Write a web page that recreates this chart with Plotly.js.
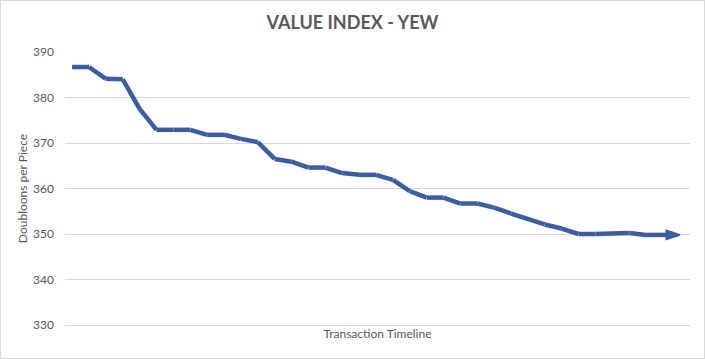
<!DOCTYPE html>
<html><head><meta charset="utf-8">
<script src="https://cdn.plot.ly/plotly-3.0.1.min.js"></script>
<style>html,body{margin:0;padding:0;background:#fff}#wrap{width:705px;height:359px;box-sizing:border-box;border:1px solid #d9d9d9}#chart{width:703px;height:357px}</style>
</head><body><div id="wrap"><div id="chart"></div></div>
<script>
const steps = Array.from({length: 37}, (_, i) => i);
const values = [386.7,386.7,384.1,384.0,377.5,372.9,372.9,372.9,371.8,371.8,370.9,370.2,366.5,365.9,364.6,364.6,363.4,363.0,363.0,361.9,359.4,358.0,358.0,356.7,356.7,355.8,354.5,353.2,352.1,351.2,350.0,350.0,350.0,350.2,349.8,349.8,349.8];
const yTicks = [330,340,350,360,370,380,390];
const chartTitle = 'VALUE INDEX - YEW';
const xTitle = 'Transaction Timeline';
const yTitle = 'Doubloons per Piece';

const n = values.length;
const markerSizes = values.map((v,i)=> i===n-1 ? 14 : 0);
const grey = '#595959';
const trace = {
  x: steps, y: values, type: 'scatter', mode: 'lines+markers',
  line: {color: '#3A5DA3', width: 4.5},
  marker: {symbol: 'arrow', size: markerSizes, angleref: 'previous', color: '#3A5DA3', opacity: 1,
           line: {width: 2, color: '#3A5DA3'}},
  hoverinfo: 'none'
};
const layout = {
  width: 703, height: 357,
  margin: {l: 64, r: 14, t: 51, b: 33},
  paper_bgcolor: '#fff', plot_bgcolor: '#fff',
  showlegend: false,
  font: {family: 'Lato, "Open Sans", sans-serif', color: grey, size: 12},
  title: {text: '<b>' + chartTitle + '</b>', x: 0.5, xanchor: 'center', y: 0.94, yanchor: 'middle', yref: 'container',
          font: {family: 'Lato, "Open Sans", sans-serif', size: 18, color: grey}},
  xaxis: {range: [-0.42, 36.6], showticklabels: false, ticks: '', showgrid: false, zeroline: false,
          showline: true, linecolor: '#d9d9d9', linewidth: 1,
          title: {text: xTitle, standoff: 4, font: {size: 12, color: grey}}},
  yaxis: {range: [330, 390], tickvals: yTicks, showgrid: true, gridcolor: '#d9d9d9', gridwidth: 1,
          zeroline: false, showline: false, ticks: '', ticklabelstandoff: 10,
          tickfont: {size: 12, color: grey},
          title: {text: yTitle, standoff: 2, font: {size: 12, color: grey}}}
};
Plotly.newPlot('chart', [trace], layout, {staticPlot: true, displayModeBar: false});
</script></body></html>
